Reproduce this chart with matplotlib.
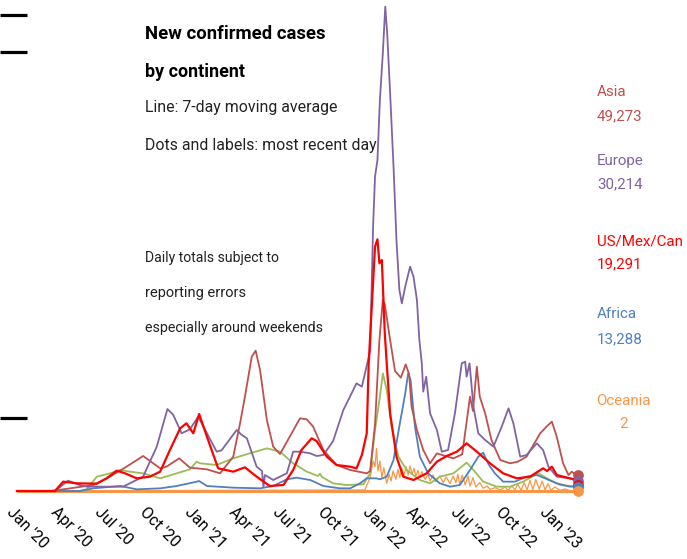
import numpy as np
import matplotlib
matplotlib.use("Agg")
import matplotlib.pyplot as plt
from matplotlib.transforms import ScaledTranslation

plt.rcParams["font.family"] = ["Roboto", "DejaVu Sans"]

# x: days since 2020-01-01, y: new cases (thousands), 7-day average
asia_days = [6, 74, 101, 163, 197, 231, 265, 300, 313, 339, 361, 396, 423, 450, 464, 474, 488, 496, 505, 519,
             532, 546, 566, 587, 601, 614, 635, 662, 690, 724, 731, 741, 750, 757, 761, 772, 782, 794, 804, 811,
             816, 827, 840, 854, 868, 885, 902, 920, 936, 942, 950, 956, 967, 980, 998, 1018, 1034, 1052, 1066,
             1080, 1093, 1104, 1114, 1127, 1138, 1145, 1158]
asia_vals = [0, 0, 5, 18, 43, 73, 105, 68, 73, 98, 70, 65, 53, 103, 203, 283, 403, 421, 363, 213,
             133, 111, 163, 218, 215, 193, 123, 78, 63, 53, 60, 200, 453, 573, 560, 453, 360, 340, 380, 350,
             253, 183, 123, 83, 113, 105, 98, 110, 283, 240, 373, 283, 233, 153, 93, 83, 88, 103, 138,
             173, 193, 208, 163, 83, 48, 58, 43]

europe_days = [6, 84, 111, 135, 150, 224, 265, 293, 315, 327, 344, 361, 378, 416, 426, 457, 466, 478, 498, 509,
               512, 515, 532, 560, 573, 587, 608, 621, 635, 655, 676, 703, 714, 731, 737, 741, 746, 751, 757,
               762, 766, 772, 779, 785, 791, 796, 803, 813, 820, 827, 832, 837, 840, 846, 854, 868, 878, 891,
               905, 919, 926, 929, 935, 943, 953, 967, 984, 1001, 1015, 1025, 1039, 1052, 1073, 1086, 1097,
               1114, 1141, 1158]
europe_vals = [0, 0, 31, 18, 13, 13, 43, 133, 246, 228, 173, 185, 223, 118, 122, 183, 170, 158, 73, 60,
               13, 48, 33, 53, 118, 118, 113, 105, 108, 150, 243, 323, 313, 420, 793, 943, 993, 1173, 1313,
               1453, 1373, 1193, 973, 753, 603, 563, 613, 673, 643, 573, 453, 383, 298, 343, 233, 183, 118, 123,
               233, 383, 388, 343, 383, 253, 173, 153, 133, 193, 248, 203, 103, 108, 143, 123, 73,
               43, 38, 28]

usmexcan_days = [6, 84, 101, 129, 170, 190, 211, 228, 252, 279, 300, 320, 341, 354, 368, 380, 396, 419, 450, 474,
                 498, 525, 553, 573, 590, 611, 621, 642, 662, 690, 703, 714, 724, 728, 741, 746, 750, 755, 761,
                 765, 772, 785, 799, 820, 847, 868, 888, 909, 929, 950, 977, 1004, 1032, 1059, 1086, 1094, 1104,
                 1114, 1141, 1158]
usmexcan_vals = [0, 0, 28, 23, 22, 38, 61, 53, 38, 43, 58, 123, 188, 203, 173, 231, 163, 68, 58, 71,
                 43, 15, 18, 63, 123, 158, 150, 103, 78, 73, 68, 108, 173, 383, 733, 755, 683, 693, 474,
                 383, 233, 103, 43, 33, 53, 88, 105, 118, 143, 118, 83, 53, 38, 43, 68, 60, 73,
                 48, 38, 33]

africa_days = [6, 135, 163, 218, 252, 300, 334, 375, 380, 396, 450, 505, 532, 560, 580, 608, 635, 669, 690, 710,
               724, 744, 751, 765, 779, 792, 803, 809, 814, 823, 833, 850, 874, 895, 915, 936, 953, 963, 974, 987,
               1004, 1028, 1052, 1073, 1090, 1114, 1141, 1158]
africa_vals = [0, 0, 8, 15, 5, 8, 15, 28, 30, 15, 10, 8, 15, 35, 40, 33, 15, 8, 8, 23,
               38, 38, 35, 43, 93, 203, 293, 353, 333, 193, 103, 53, 23, 13, 18, 63, 103, 115, 80, 53,
               28, 28, 43, 48, 38, 23, 13, 13]

green_days = [6, 135, 149, 170, 197, 218, 238, 265, 300, 334, 361, 375, 382, 416, 450, 484, 519, 546, 573, 601,
              624, 628, 632, 655, 683, 717, 731, 741, 751, 757, 765, 775, 789, 806, 833, 854, 874, 902, 929, 943,
              963, 991, 1018, 1045, 1076, 1100, 1121, 1158]
green_vals = [0, 0, 5, 43, 53, 63, 58, 53, 38, 53, 65, 88, 83, 78, 98, 113, 128, 118, 83, 58,
              45, 52, 42, 23, 18, 20, 53, 183, 283, 353, 303, 193, 103, 63, 33, 23, 43, 53, 85, 63,
              28, 13, 13, 28, 53, 33, 18, 13]

oceania_days = [6, 720, 731, 737, 741, 744, 747, 751, 755, 759, 765, 770, 774, 778, 784, 788, 792, 796, 800, 805,
                809, 813, 817, 821, 825, 829, 833, 837, 844, 850, 854, 860, 866, 874, 881, 887, 895, 901, 907, 911,
                915, 920, 926, 932, 936, 942, 948, 956, 963, 971, 977, 987, 998, 1008, 1014, 1022, 1028, 1034,
                1041, 1047, 1053, 1059, 1065, 1071, 1078, 1084, 1090, 1096, 1102, 1110, 1121, 1131, 1141, 1158]
oceania_vals = [0, 3, 40, 90, 73, 128, 60, 90, 40, 70, 23, 50, 30, 60, 35, 65, 40, 70, 45, 72,
                48, 75, 50, 68, 45, 62, 40, 58, 35, 50, 30, 48, 28, 45, 25, 42, 22, 45, 25, 50,
                20, 48, 18, 45, 15, 40, 12, 25, 8, 15, 5, 10, 3, 12, 2, 15, 3, 20, 2, 25,
                3, 32, 4, 35, 5, 30, 3, 22, 2, 12, 2, 6, 1, 0]

# most recent day
continents = ["Asia", "Europe", "US/Mex/Can", "Africa", "Oceania"]
latest_vals = [49.273, 30.214, 19.291, 13.288, 0.002]
colors = ["#c0504d", "#8064a2", "#ff0000", "#4f81bd", "#f79646"]
green = "#9bbb59"

tick_dates = ["2020-01-01", "2020-04-01", "2020-07-01", "2020-10-01", "2021-01-01", "2021-04-01", "2021-07-01",
              "2021-10-01", "2022-01-01", "2022-04-01", "2022-07-01", "2022-10-01", "2023-01-01"]
tick_labels = ["Jan '20", "Apr '20", "Jul '20", "Oct '20", "Jan '21", "Apr '21", "Jul '21",
               "Oct '21", "Jan '22", "Apr '22", "Jul '22", "Oct '22", "Jan '23"]
y_marks = [1428, 1318, 218]

W, H = 687, 559
fig = plt.figure(figsize=(W / 100, H / 100), dpi=100)
ax = fig.add_axes([0, (H - 496) / H, 1, 496 / H])

px_per_day = 1 / 2.0525
ax.set_xlim(-14 / px_per_day, (W - 14) / px_per_day)
ax.set_ylim(-15, 1473)

ax.hlines(0, oceania_days[0], oceania_days[-1], color=colors[4], lw=2.2, zorder=1)
ax.plot(oceania_days, oceania_vals, color=colors[4], lw=0.9, zorder=2)
ax.plot(green_days, green_vals, color=green, lw=1.3, zorder=3)
ax.plot(africa_days, africa_vals, color=colors[3], lw=1.3, zorder=3)
ax.plot(asia_days, asia_vals, color=colors[0], lw=1.3, zorder=4)
ax.plot(europe_days, europe_vals, color=colors[1], lw=1.3, zorder=4)
ax.plot(usmexcan_days, usmexcan_vals, color=colors[2], lw=1.6, zorder=5)

last_day = asia_days[-1]
for v, c in zip(latest_vals, colors):
    ax.scatter(last_day, v, s=60, color=c, zorder=6, clip_on=False, linewidths=0)

base = np.datetime64("2020-01-01")
ticks = (np.array(tick_dates, dtype="datetime64[D]") - base).astype(int)
ax.set_xticks(ticks)
ax.set_xticklabels(tick_labels, rotation=-45, ha="left", va="top", rotation_mode="anchor", fontsize=11.5)
shift = ScaledTranslation(0.1, 0, fig.dpi_scale_trans)
for t in ax.get_xticklabels():
    t.set_transform(t.get_transform() + shift)
ax.tick_params(axis="x", length=0, pad=6)
ax.set_yticks(y_marks)
ax.set_yticklabels([])
ax.tick_params(axis="y", direction="in", length=19.4, width=2.3, color="black")
for s in ax.spines.values():
    s.set_visible(False)

renderer = fig.canvas.get_renderer()


def fx(x):
    return x / W


def fy(y):
    return 1 - y / H


def put(x, y, s, width, bold=False, color="#222222", ha="left"):
    # size the text so it spans about the same width as in the reference
    t = fig.text(fx(x), fy(y), s, fontsize=12, fontweight="bold" if bold else "normal",
                 color=color, ha=ha, va="baseline")
    w = t.get_window_extent(renderer).width
    t.set_fontsize(12 * width / w)
    return t


put(145, 39, "New confirmed cases", 180, bold=True, color="black")
put(145, 77, "by continent", 100, bold=True, color="black")
put(145, 112, "Line: 7-day moving average", 192)
put(145, 150, "Dots and labels: most recent day", 230)
put(145, 262, "Daily totals subject to", 134)
put(145, 297, "reporting errors", 101)
put(145, 332, "especially around weekends", 178)

# right-hand labels share one size, set by the widest one
probe = put(0, 0, "US/Mex/Can", 86)
label_size = probe.get_fontsize()
probe.remove()

label_y = [96, 165, 245, 318, 405]
value_y = [120, 188, 268, 343, 428]
for name, v, c, ly, vy in zip(continents, latest_vals, colors, label_y, value_y):
    num = f"{round(v * 1000):,}"
    if name == "Oceania":
        fig.text(fx(623), fy(ly), name, fontsize=label_size, color=c, ha="center", va="baseline")
        fig.text(fx(623), fy(vy), num, fontsize=label_size, color=c, ha="center", va="baseline")
    else:
        fig.text(fx(597), fy(ly), name, fontsize=label_size, color=c, va="baseline")
        fig.text(fx(597), fy(vy), num, fontsize=label_size, color=c, va="baseline")

fig.savefig("out.png", dpi=100)
